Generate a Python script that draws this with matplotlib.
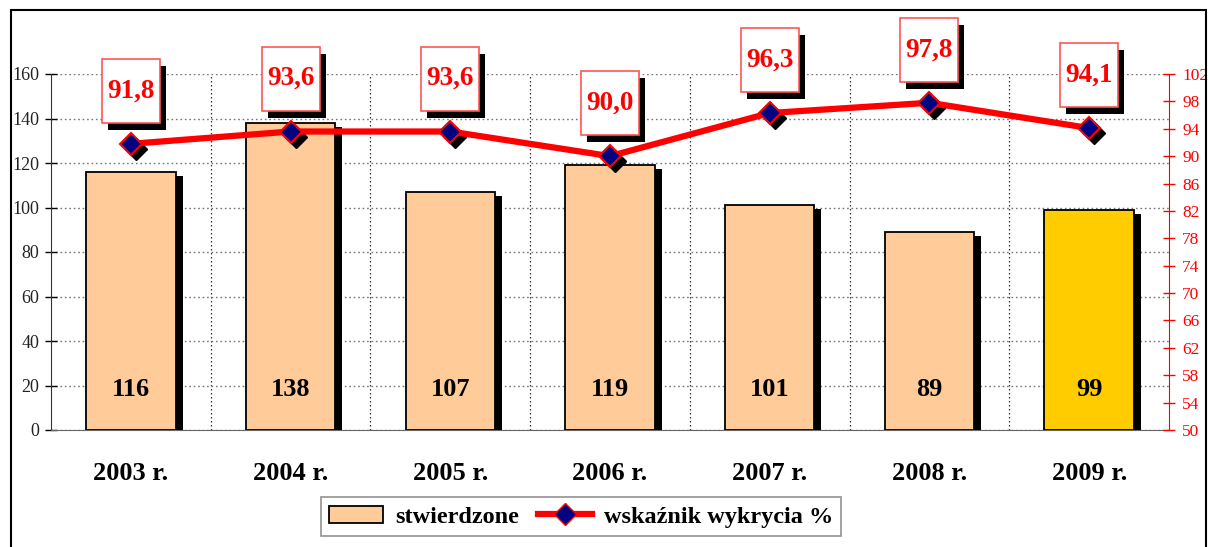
import matplotlib
matplotlib.use('Agg')
import matplotlib.pyplot as plt
from matplotlib import transforms
from matplotlib.patches import Rectangle, Patch
from matplotlib.lines import Line2D

plt.rcParams['font.family'] = ['Liberation Serif', 'DejaVu Serif']

years = ['2003 r.', '2004 r.', '2005 r.', '2006 r.', '2007 r.', '2008 r.', '2009 r.']
stwierdzone = [116, 138, 107, 119, 101, 89, 99]
wskaznik = [91.8, 93.6, 93.6, 90.0, 96.3, 97.8, 94.1]
bar_colors = ['#FFCC99'] * 6 + ['#FFCC00']
left_ticks = list(range(0, 161, 20))
right_ticks = list(range(50, 103, 4))

red = '#FF0000'
fig = plt.figure(figsize=(12.08, 5.47), dpi=100)
ax = fig.add_axes([51 / 1208, 1 - 430 / 547, 1118 / 1208, 356 / 547])
ax2 = ax.twinx()

x = list(range(len(years)))

# grid
ax.set_axisbelow(True)
ax.yaxis.grid(True, color='#777777', linestyle=(0, (1.2, 2.0)), linewidth=1.0)
for b in range(len(years) - 1):
    ax.axvline(b + 0.5, color='#333333', linestyle=(0, (1.2, 2.0)), linewidth=0.9, zorder=0.5)

# bars + shadow
shadow_tr = transforms.offset_copy(ax.transData, fig, x=7, y=-4, units='dots')
ax.bar(x, stwierdzone, 0.56, color='black', transform=shadow_tr, zorder=2)
ax.bar(x, stwierdzone, 0.56, color=bar_colors, edgecolor='black', linewidth=1.3, zorder=3)
for i, v in enumerate(stwierdzone):
    ax.text(i, 18, str(v), ha='center', va='center', fontsize=19, fontweight='bold', zorder=4)

ax.set_xlim(-0.5, len(years) - 0.5)
ax.set_ylim(0, 160)
ax.set_yticks(left_ticks)
ax.tick_params(axis='y', direction='inout', length=9, width=1, labelsize=13,
               labelcolor='#222222', pad=4)
ax.set_xticks(x)
ax.set_xticklabels(years, fontsize=19, fontweight='bold')
ax.tick_params(axis='x', length=0, pad=23)
for s in ['top', 'right']:
    ax.spines[s].set_visible(False)
ax.spines['bottom'].set_color('#666666')
ax.spines['left'].set_color('#333333')

# line on right axis
ax2.set_ylim(50, 102)
ax2.set_yticks(right_ticks)
ax2.tick_params(axis='y', direction='inout', length=9, width=1, colors=red,
                labelsize=12.5, pad=5)
for s in ['top', 'left', 'bottom']:
    ax2.spines[s].set_visible(False)
ax2.spines['right'].set_color(red)

mk_shadow = transforms.offset_copy(ax2.transData, fig, x=5, y=-5, units='dots')
ax2.plot(x, wskaznik, linestyle='none', marker='D', ms=11, color='black',
         transform=mk_shadow, zorder=4)
ax2.plot(x, wskaznik, color=red, lw=4.5, marker='D', ms=11, mfc='#000080',
         mec=red, mew=1.5, zorder=5)

# value boxes above markers
for i, v in enumerate(wskaznik):
    tr = fig.dpi_scale_trans + transforms.ScaledTranslation(i, v, ax2.transData)
    ax2.add_patch(Rectangle((-0.23, 0.14), 0.58, 0.64, transform=tr, facecolor='black',
                            edgecolor='none', clip_on=False, zorder=6))
    ax2.add_patch(Rectangle((-0.29, 0.21), 0.58, 0.64, transform=tr, facecolor='white',
                            edgecolor='#FF5555', linewidth=1.2, clip_on=False, zorder=7))
    ax2.text(0, 0.53, f'{v:.1f}'.replace('.', ','), transform=tr, ha='center', va='center',
             color=red, fontsize=19.5, fontweight='bold', zorder=8, clip_on=False)

# legend
handles = [Patch(facecolor='#FFCC99', edgecolor='black', linewidth=1.3),
           Line2D([], [], color=red, lw=4.5, marker='D', ms=11, mfc='#000080', mec=red)]
leg = fig.legend(handles, ['stwierdzone', 'wskaźnik wykrycia %'], loc='center',
                 bbox_to_anchor=(0.481, 0.055), ncol=2, fancybox=False, frameon=True,
                 prop={'size': 17.5, 'weight': 'bold'}, handlelength=2.2,
                 columnspacing=0.8, handletextpad=0.5, borderpad=0.35)
leg.get_frame().set_edgecolor('#777777')
leg.get_frame().set_linewidth(1.2)

# outer frame
fig.add_artist(Rectangle((11 / 1208, -0.01), 1195 / 1208, 1 - 10 / 547 + 0.01,
                         transform=fig.transFigure, fill=False, edgecolor='black',
                         linewidth=1.5))

fig.savefig('out.png', dpi=100)
